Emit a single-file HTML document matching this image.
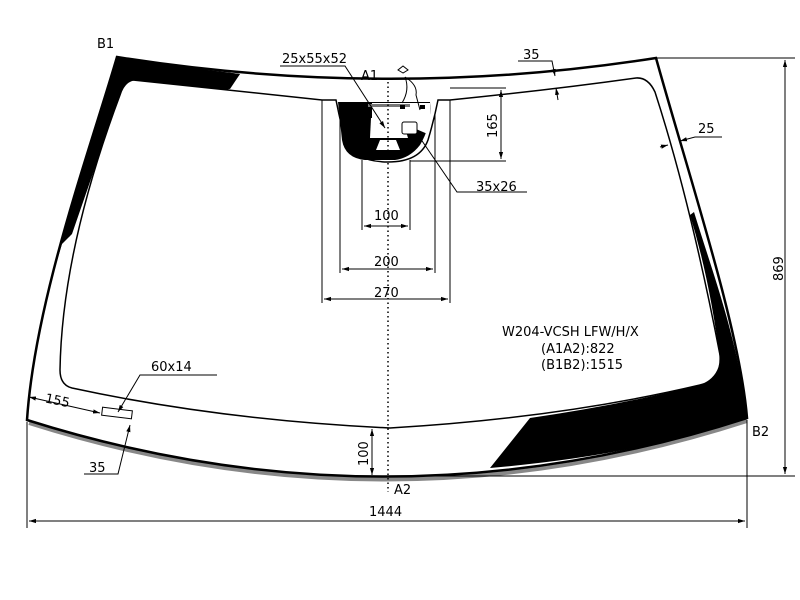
<!DOCTYPE html>
<html><head><meta charset="utf-8"><style>html,body{margin:0;padding:0;background:#fff}svg{display:block}text{font-family:"DejaVu Sans","Liberation Sans",sans-serif;fill:#000}</style></head><body>
<svg width="800" height="600" viewBox="0 0 800 600" xmlns="http://www.w3.org/2000/svg">
<defs><marker id="a" viewBox="0 0 10 10" refX="10" refY="5" markerWidth="7" markerHeight="7" orient="auto-start-reverse"><path d="M0,2 L10,5 L0,8z" fill="#000"/></marker></defs>
<!-- gray bottom band -->
<path d="M29,423 Q388,537 747,421" fill="none" stroke="#888" stroke-width="4"/>
<!-- black frit left/top -->
<path d="M117,57 Q180,67 240,74 L228,90 Q180,85 133,80 Q125,82 120,95 L72,234 L62,244 C48,290 35,340 27,420 L27,420 C35,300 90,150 117,57Z" fill="#000"/>
<path d="M117,57 C90,150 62,240 60,244 L70,236 L120,92 Q124,82 133,80 Q185,85 230,89 L240,74 Q180,67 117,57Z" fill="#000"/>
<!-- black frit right/bottom -->
<path d="M694,212 C715,280 738,340 747,418 Q640,455 490,468 L530,418 Q620,405 700,385 Q718,378 720,360 Q710,280 690,215Z" fill="#000"/>
<!-- sensor black area -->
<path d="M338,102 L430,102 Q432,125 420,145 Q410,158 395,160 L365,160 Q345,158 342,140Z" fill="#000"/>
<path d="M346,118 L375,108 L375,150 L358,152Z" fill="#fff" opacity="0.0"/>
<path d="M371,118 L402,118 L408,138 L370,138Z" fill="#fff"/>
<path d="M380,140 L396,140 L400,150 L376,150Z" fill="#fff"/>
<path d="M372,103 L430,103 L430,135 L395,120 L372,120Z" fill="#fff"/>
<rect x="368" y="104" width="42" height="3" fill="#777"/>
<rect x="402" y="122" width="15" height="12" rx="2" fill="#fff" stroke="#000"/>
<path d="M405,77 Q418,85 416,95 L420,110 M403,73 L398,70 L403,66 L408,70Z M405,77 Q410,90 402,103" fill="none" stroke="#000" stroke-width="1"/>
<rect x="400" y="105" width="5" height="4" fill="#000"/><rect x="420" y="105" width="5" height="4" fill="#000"/>
<!-- outer glass outline -->
<path d="M117,57 Q388,100 656,58 C690,180 740,330 747,418 Q388,534 27,420 C35,300 90,150 117,57Z" fill="none" stroke="#000" stroke-width="2.5"/>
<!-- inner line -->
<path d="M133,80 Q230,90 322,100 L336,100 Q340,120 345,140 Q355,162 388,162 Q420,162 428,140 Q434,120 438,100 L450,100 Q550,90 636,78 Q648,77 655,92 Q690,200 720,355 Q722,380 700,385 Q560,418 390,428 Q220,420 72,388 Q60,385 60,370 Q62,250 120,95 Q124,82 133,80Z" fill="none" stroke="#000" stroke-width="1.5"/>
<!-- centerline -->
<line x1="388" y1="82" x2="388" y2="492" stroke="#000" stroke-width="1.5" stroke-dasharray="1.5,3"/>
<g stroke="#000" stroke-width="1" fill="none">
<!-- 869 -->
<line x1="656" y1="58" x2="795" y2="58"/><line x1="372" y1="476" x2="795" y2="476"/>
<line x1="785" y1="60" x2="785" y2="474" marker-start="url(#a)" marker-end="url(#a)"/>
<!-- 1444 -->
<line x1="27" y1="422" x2="27" y2="528"/><line x1="747" y1="420" x2="747" y2="528"/>
<line x1="29" y1="521" x2="745" y2="521" marker-start="url(#a)" marker-end="url(#a)"/>
<!-- 100 vertical -->
<line x1="372" y1="429" x2="372" y2="475" marker-start="url(#a)" marker-end="url(#a)"/>
<!-- 270/200/100 -->
<line x1="322" y1="100" x2="322" y2="303"/><line x1="450" y1="100" x2="450" y2="303"/>
<line x1="340" y1="115" x2="340" y2="273"/><line x1="435" y1="115" x2="435" y2="273"/>
<line x1="362" y1="160" x2="362" y2="230"/><line x1="410" y1="160" x2="410" y2="230"/>
<line x1="324" y1="299" x2="448" y2="299" marker-start="url(#a)" marker-end="url(#a)"/>
<line x1="342" y1="269" x2="433" y2="269" marker-start="url(#a)" marker-end="url(#a)"/>
<line x1="364" y1="226" x2="408" y2="226" marker-start="url(#a)" marker-end="url(#a)"/>
<!-- 165 -->
<line x1="450" y1="88" x2="506" y2="88"/><line x1="410" y1="161" x2="506" y2="161"/>
<line x1="501" y1="90" x2="501" y2="159" marker-start="url(#a)" marker-end="url(#a)"/>
<!-- 35x26 -->
<path d="M418,135 L457,192 L527,192"/>
<!-- 25x55x52 -->
<path d="M280,66 L345,66 L385,128" marker-end="url(#a)"/>
<!-- 35 top -->
<path d="M518,61 L552,61 L555,76" marker-end="url(#a)"/><line x1="558" y1="100" x2="556" y2="88" marker-end="url(#a)"/>
<!-- 25 right -->
<path d="M722,137 L695,137 L680,141" marker-end="url(#a)"/><line x1="660" y1="147" x2="668" y2="145" marker-end="url(#a)"/>
<!-- 60x14 -->
<path d="M217,375 L140,375 L118,412" marker-end="url(#a)"/>
<rect x="102" y="409" width="30" height="8" transform="rotate(7 117 413)"/>
<!-- 155 -->
<line x1="29" y1="397" x2="100" y2="413" marker-start="url(#a)" marker-end="url(#a)"/>
<!-- 35 lower -->
<path d="M84,474 L118,474 L130,425" marker-end="url(#a)"/>
</g>
<g font-size="13">
<text x="97" y="48">B1</text>
<text x="752" y="436">B2</text>
<text x="361" y="80">A1</text>
<text x="394" y="494">A2</text>
<text x="282" y="63">25x55x52</text>
<text x="523" y="59">35</text>
<text x="698" y="133">25</text>
<text x="476" y="191">35x26</text>
<text x="374" y="220">100</text>
<text x="374" y="266">200</text>
<text x="374" y="297">270</text>
<text x="151" y="371">60x14</text>
<text x="45" y="405" transform="rotate(12 58 401)">155</text>
<text x="89" y="472">35</text>
<text x="369" y="516">1444</text>
<text x="502" y="336">W204-VCSH LFW/H/X</text>
<text x="541" y="353">(A1A2):822</text>
<text x="541" y="369">(B1B2):1515</text>
<text transform="translate(497,138) rotate(-90)">165</text>
<text transform="translate(368,466) rotate(-90)">100</text>
<text transform="translate(783,281) rotate(-90)">869</text>
</g>
</svg>
</body></html>
